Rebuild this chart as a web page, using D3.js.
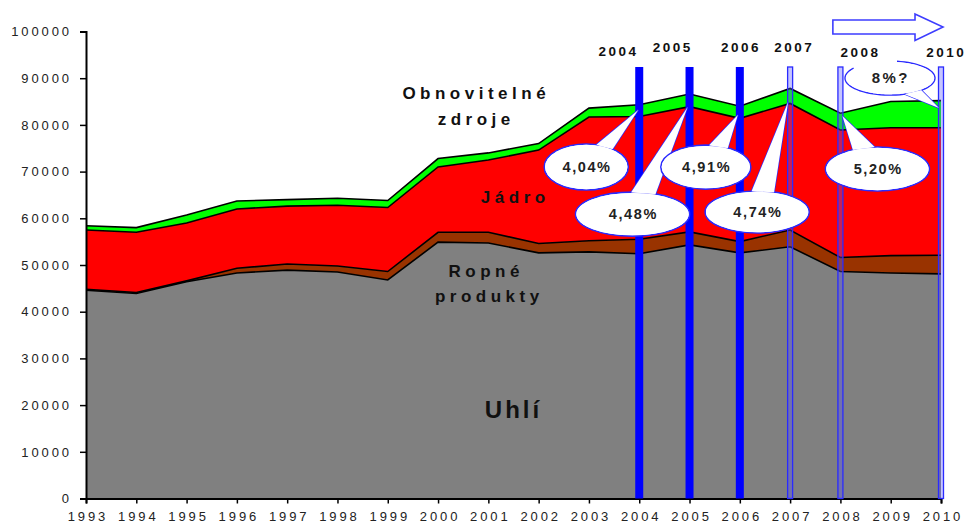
<!DOCTYPE html>
<html><head><meta charset="utf-8">
<script src="https://cdn.jsdelivr.net/npm/d3@7"></script>
<style>
body{margin:0;background:#fff}
svg{display:block}
text{font-family:"Liberation Sans",Arial,sans-serif}
</style>
</head><body>
<svg id="chart" width="966" height="527"></svg>
<script>
// ---------- data ----------
const years = [1993,1994,1995,1996,1997,1998,1999,2000,2001,2002,2003,2004,2005,2006,2007,2008,2009,2010];
const coal      = [44600,43900,46400,48300,48900,48500,46800,54900,54700,52600,52800,52400,54300,52600,53900,48600,48300,48100];
const oil       = [  200,  200,  200, 1000, 1300, 1300, 1800, 2100, 2300, 2000, 2400, 3100, 2800, 2400, 3600, 3000, 3700, 4000];
const nuclear   = [12700,12900,12400,12700,12400,13000,13700,14000,15500,20000,26500,26300,26800,26400,27100,27300,27400,27300];
const renewable = [  900, 1000, 1700, 1700, 1400, 1500, 1500, 1800, 1500, 1400, 1900, 2500, 2700, 2600, 3200, 3600, 5600, 5800];
const seriesKeys   = ["coal","oil","nuclear","renewable"];
const seriesColors = ["#808080","#993300","#ff0000","#00ff00"];
const yTicks = [0,10000,20000,30000,40000,50000,60000,70000,80000,90000,100000];
const thickBarYears = [2004,2005,2006];
const thinBarYears  = [2007,2008,2010];
const barLabelYears = ["2004","2005","2006","2007","2008","2010"];
const calloutYears  = [2004,2005,2006,2007,2008,2010];
const calloutTexts  = ["4,04%","4,48%","4,91%","4,74%","5,20%","8%?"];
const calloutTipValues = [83200,83800,82100,84900,81900,83600];

// ---------- layout ----------
const svg = d3.select("#chart");
const x = d3.scaleLinear().domain([1993,2010]).range([86,941]);
const y = d3.scaleLinear().domain([0,100000]).range([498.5,31.5]);

const table = years.map((yr,i)=>({year:yr,coal:coal[i],oil:oil[i],nuclear:nuclear[i],renewable:renewable[i]}));
const stack = d3.stack().keys(seriesKeys)(table);

const area = d3.area().x(d=>x(d.data.year)).y0(d=>y(d[0])).y1(d=>y(d[1]));
const line = d3.line().x(d=>x(d.data.year)).y(d=>y(d[1]));

svg.append("g").selectAll("path").data(stack).join("path")
  .attr("d",area).attr("fill",(d,i)=>seriesColors[i]);
svg.append("g").selectAll("path").data(stack).join("path")
  .attr("d",line).attr("fill","none").attr("stroke","#000").attr("stroke-width",1.6);

// ---------- axes ----------
const yAxis = svg.append("g").attr("transform","translate(86,0)")
  .call(d3.axisLeft(y).tickValues(yTicks).tickSize(6).tickFormat(d3.format("d")));
const xAxis = svg.append("g").attr("transform","translate(0,498.5)")
  .call(d3.axisBottom(x).tickValues(years).tickSize(5).tickFormat(d3.format("d")));
[yAxis,xAxis].forEach(a=>{
  a.select(".domain").attr("stroke","#000").attr("stroke-width",2);
  a.selectAll(".tick line").attr("stroke","#000").attr("stroke-width",1.5);
  a.selectAll(".tick text").attr("font-size",13).attr("fill","#222")
    .attr("font-family","Liberation Sans, Arial, sans-serif").style("letter-spacing","2.9px");
});
yAxis.selectAll(".tick text").attr("x",-14).attr("dy","0.33em");
xAxis.selectAll(".tick text").attr("y",13).attr("dy","0.71em").attr("dx","1.5px");

// ---------- blue vertical bars ----------
const barTop = y(92400), barBottom = y(0);
svg.append("g").selectAll("rect").data(thickBarYears).join("rect")
  .attr("x",d=>x(d)-4).attr("width",8)
  .attr("y",barTop).attr("height",barBottom-barTop).attr("fill","#0000ff");
svg.append("g").selectAll("rect").data(thinBarYears).join("rect")
  .attr("x",d=>x(d)-2.5).attr("width",5)
  .attr("y",barTop).attr("height",barBottom-barTop)
  .attr("fill","rgba(90,90,255,0.35)").attr("stroke","#2a2aff").attr("stroke-width",1.3);

// year labels above bars
const labelDx = [-22,-18,0,3,19,4];
const labelDy = [56,52,52,52,57,57];
svg.append("g").selectAll("text").data(barLabelYears).join("text")
  .attr("x",(d,i)=>x(+d)+labelDx[i]+1.2).attr("y",(d,i)=>labelDy[i])
  .attr("text-anchor","middle").attr("font-size",13.5).attr("font-weight","bold")
  .attr("fill","#111").style("letter-spacing","2.5px").text(d=>d);

// arrow
const ax0 = x(2007.85), ax1 = x(2010.04), axh = ax1-28;
svg.append("path")
  .attr("d",`M${ax0},20 L${axh},20 L${axh},14 L${ax1},27 L${axh},40.5 L${axh},34 L${ax0},34 Z`)
  .attr("fill","#fff").attr("stroke","#3d3dff").attr("stroke-width",1.6);

// ---------- callouts ----------
const calloutLayout = [
  {dx:-52,dy:57,rx:42,ry:23},
  {dx:-55,dy:107,rx:57,ry:22},
  {dx:-32,dy:52,rx:45,ry:22},
  {dx:-31,dy:110,rx:52,ry:21},
  {dx:35,dy:53,rx:52,ry:22},
  {dx:-49,dy:-30,rx:45,ry:17}
];
const callouts = calloutYears.map((yr,i)=>{
  const tx = x(yr)+ (i===4?2:(i===0?-1:-2)), ty = y(calloutTipValues[i]);
  const L = calloutLayout[i];
  return {tx,ty,cx:tx+L.dx,cy:ty+L.dy,rx:L.rx,ry:L.ry,text:calloutTexts[i],open:i===5};
});
const cg = svg.append("g");
callouts.forEach(c=>{
  const g = cg.append("g");
  const a = Math.atan2((c.ty-c.cy)/c.ry,(c.tx-c.cx)/c.rx);
  const w = 0.22;
  const pt = t=>[c.cx+c.rx*Math.cos(t), c.cy+c.ry*Math.sin(t)];
  const p1 = pt(a-w), p2 = pt(a+w);
  if(c.open){
    // outline with a gap at the upper left
    const a0 = -81*Math.PI/180, a1 = 216*Math.PI/180;
    const pts = d3.range(0,61).map(k=>pt(a0+(a1-a0)*k/60));
    g.append("ellipse").attr("cx",c.cx).attr("cy",c.cy).attr("rx",c.rx).attr("ry",c.ry).attr("fill","#fff");
    g.append("path").attr("d",d3.line()(pts)).attr("fill","none")
      .attr("stroke","#2a2aff").attr("stroke-width",1.4);
  } else {
    g.append("ellipse").attr("cx",c.cx).attr("cy",c.cy).attr("rx",c.rx).attr("ry",c.ry)
      .attr("fill","#fff").attr("stroke","#2a2aff").attr("stroke-width",1.6);
  }
  g.append("path").attr("d",`M${p1[0]},${p1[1]} L${c.tx},${c.ty} L${p2[0]},${p2[1]}`)
    .attr("fill","#fff").attr("stroke","#2a2aff").attr("stroke-width",1.4);
  g.append("path").attr("d",`M${p1[0]},${p1[1]} L${c.tx},${c.ty} L${p2[0]},${p2[1]} Z`)
    .attr("fill","#fff").attr("stroke","none");
  g.append("ellipse").attr("cx",c.cx).attr("cy",c.cy).attr("rx",c.rx-0.8).attr("ry",c.ry-0.8)
    .attr("fill","#fff");
  g.append("text").attr("x",c.cx+0.8).attr("y",c.cy+5).attr("text-anchor","middle")
    .attr("font-size",c.open?15:14.5).attr("font-weight","bold").attr("fill","#222")
    .style("letter-spacing",c.open?"2.5px":"1.6px").text(c.text);
});

// ---------- series labels ----------
const seriesLabels = [
  {t:"Obnovitelné",x:474,y:99,s:17,ls:4.5},
  {t:"zdroje",x:474,y:125,s:17,ls:4.5},
  {t:"Jádro",x:513,y:203,s:17,ls:4.5},
  {t:"Ropné",x:484,y:277,s:17,ls:4.5},
  {t:"produkty",x:487,y:302,s:17,ls:4.5},
  {t:"Uhlí",x:512,y:418,s:24,ls:3}
];
svg.append("g").selectAll("text").data(seriesLabels).join("text")
  .attr("x",d=>d.x+d.ls/2).attr("y",d=>d.y).attr("text-anchor","middle")
  .attr("font-size",d=>d.s).attr("font-weight","bold").attr("fill","#111")
  .style("letter-spacing",d=>d.ls+"px").text(d=>d.t);
</script>
</body></html>
